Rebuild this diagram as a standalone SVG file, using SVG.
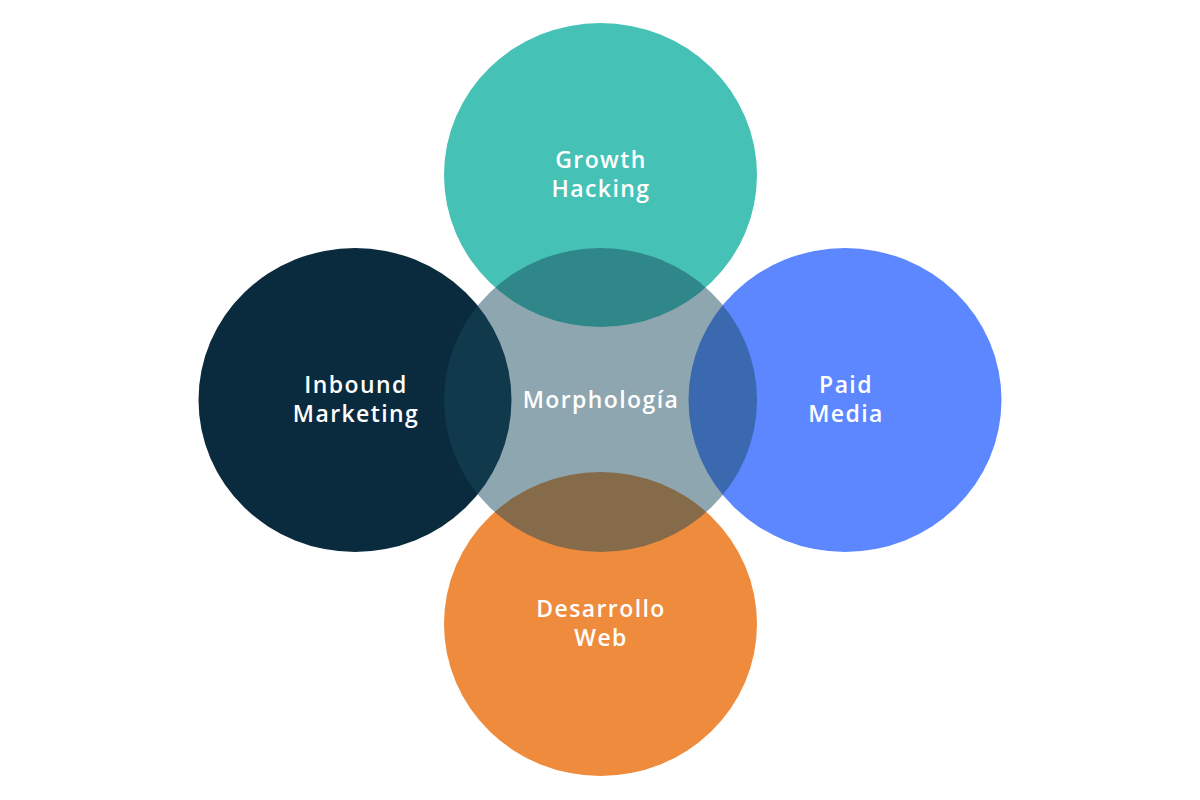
<svg xmlns="http://www.w3.org/2000/svg" width="1200" height="800" viewBox="0 0 1200 800">
<style>
.lbl{font-family:"Open Sans","Liberation Sans",sans-serif;font-size:23px;font-weight:600;fill:#ffffff;text-anchor:middle;letter-spacing:1.4px}
</style>
<rect width="1200" height="800" fill="#ffffff"/>
<g id="growth-hacking">
<ellipse cx="600.5" cy="175" rx="156.5" ry="152" fill="#45C2B5"/>
</g>
<g id="inbound-marketing">
<ellipse cx="355" cy="400" rx="156.5" ry="152" fill="#0A2A3D"/>
</g>
<g id="paid-media">
<ellipse cx="845" cy="400" rx="156.5" ry="152" fill="#5C87FF"/>
</g>
<g id="desarrollo-web">
<ellipse cx="600.5" cy="624" rx="156.5" ry="152" fill="#EF8B3C"/>
</g>
<g id="morphologia">
<ellipse cx="600.5" cy="400" rx="156.5" ry="152" fill="#184A5B" fill-opacity="0.49"/>
</g>
<g id="labels">
<text class="lbl" x="601" y="168">Growth</text>
<text class="lbl" x="601" y="197">Hacking</text>
<text class="lbl" x="356" y="393">Inbound</text>
<text class="lbl" x="356" y="422">Marketing</text>
<text class="lbl" x="846" y="393">Paid</text>
<text class="lbl" x="846" y="422">Media</text>
<text class="lbl" x="601" y="617">Desarrollo</text>
<text class="lbl" x="601" y="646">Web</text>
<text class="lbl" x="601" y="408">Morphología</text>
</g>
<g id="connectors"></g>
</svg>
